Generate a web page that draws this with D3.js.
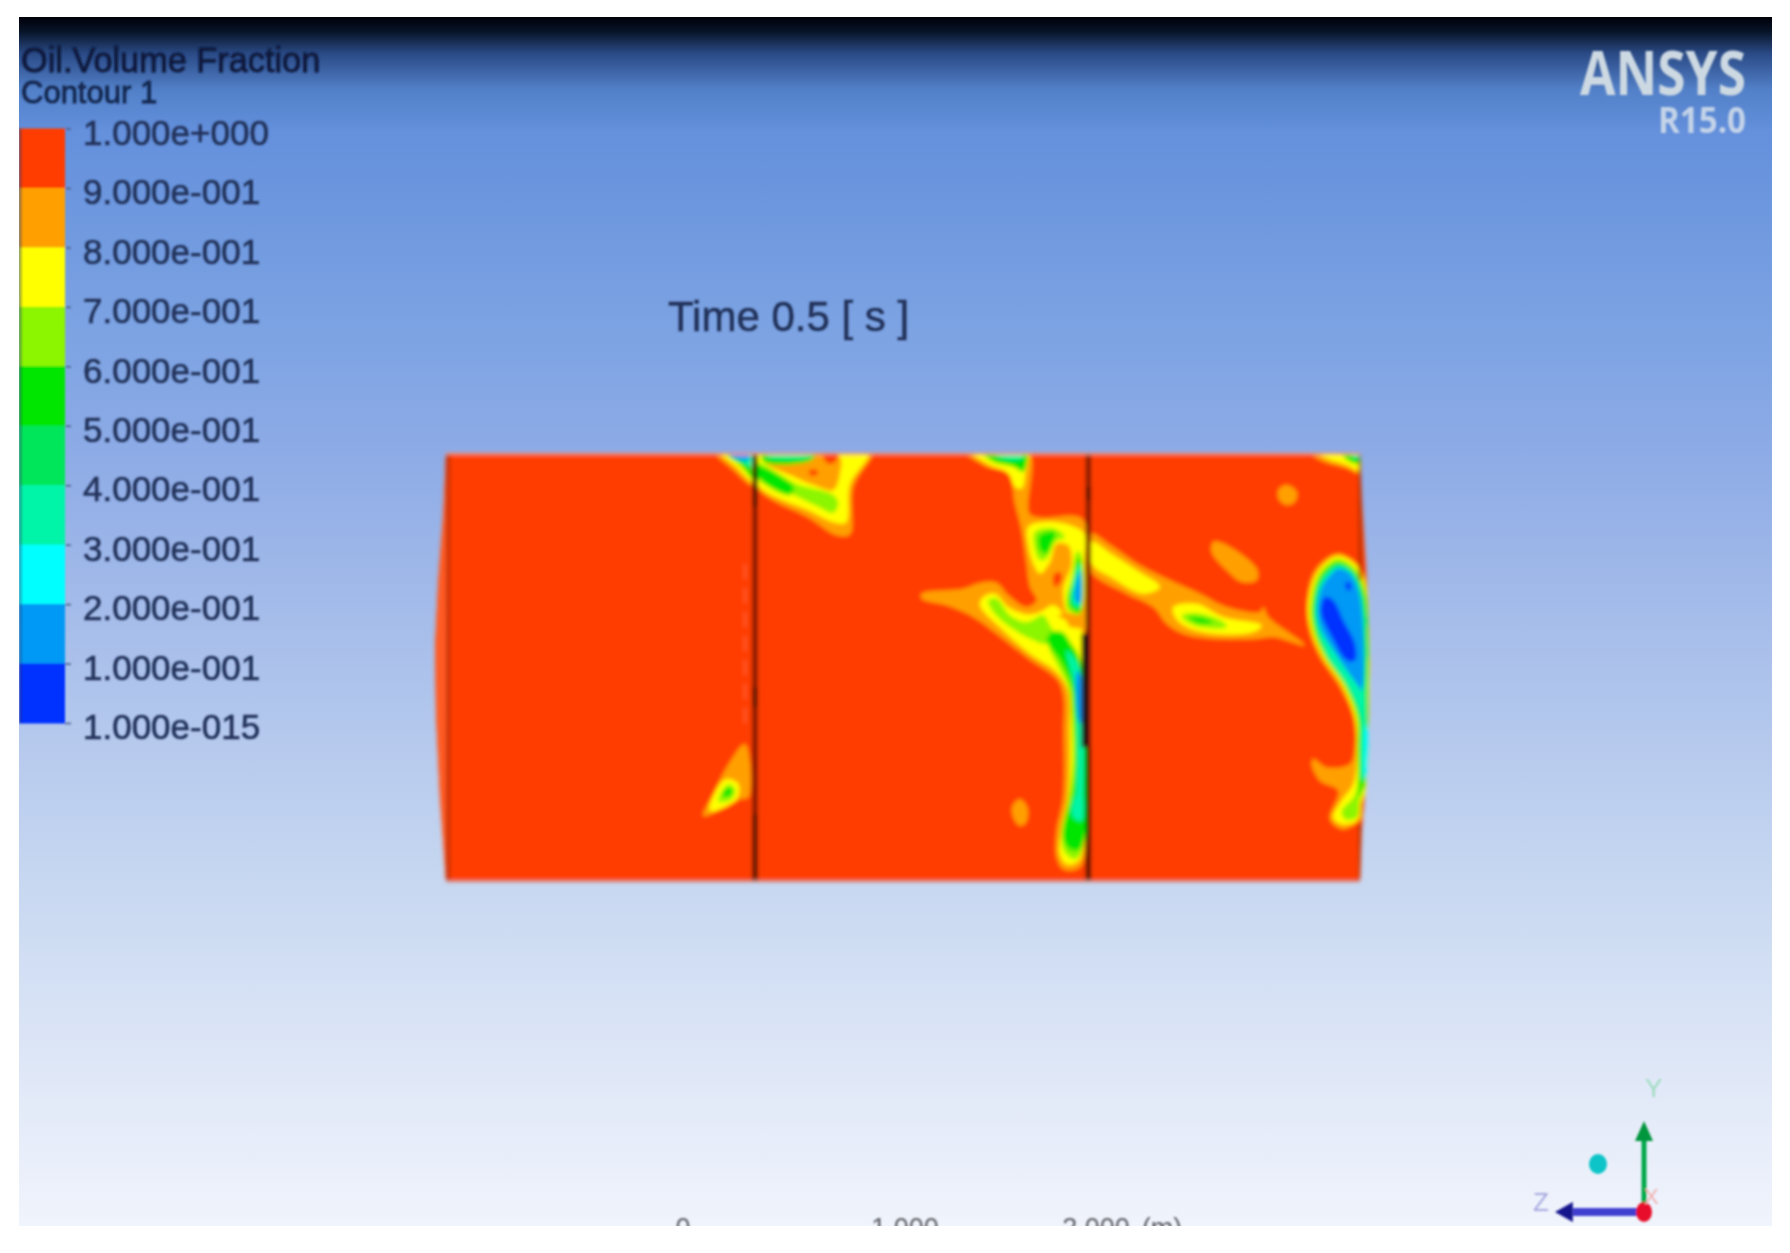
<!DOCTYPE html>
<html>
<head>
<meta charset="utf-8">
<script src="https://cdn.jsdelivr.net/npm/d3@7"></script>
<style>
  html, body { margin: 0; background: #fff; }
  svg { display: block; }
  text { font-family: "Liberation Sans", Arial, sans-serif; }
</style>
</head>
<body>
<svg id="chart" width="1790" height="1253"></svg>
<script>
// legend
const legendLabels = ["1.000e+000","9.000e-001","8.000e-001","7.000e-001","6.000e-001","5.000e-001","4.000e-001","3.000e-001","2.000e-001","1.000e-001","1.000e-015"]
const bandTops = [1,0.9,0.8,0.7,0.6,0.5,0.4,0.3,0.2,0.1]
const bandLimits = [0.1,0.2,0.3,0.4,0.5,0.6,0.7,0.8,0.9]
const bandColors = ["#0033ff","#0099f5","#00ffff","#00f5a8","#00e65a","#00e600","#8cf500","#ffff00","#ffa000","#ff3c00"]

// background, top to bottom
const bgOffsets = [0,0.012,0.03,0.06,0.095,0.25,0.36,0.5,0.72,0.9,1]
const bgColors = ["#00000a","#081428","#2a4a85","#5280c8","#6490dc","#7ba2e2","#8dabe6","#a6bdea","#c8d8f1","#e3eaf8","#f0f4fc"]

// scale bar
const scaleValues = [0,1,2]
const scaleLabels = ["0","1.000","2.000"]

// domain outline, y is measured downward
const leftWall = [[-1302,72],[-1310,250],[-1325,450],[-1335,650],[-1332,850],[-1320,1100],[-1302,1350]]
const rightWall = [[1440,72],[1445,200],[1460,450],[1468,700],[1462,1000],[1445,1200],[1440,1350]]

// contour patches: [band value, outline]
const cornerPatch = [
  [0.85,[[-500,60],[-375,60],[-375,172],[-390,165],[-440,120]]],
  [0.75,[[-485,60],[-375,60],[-375,160],[-390,152],[-430,112]]],
  [0.55,[[-475,60],[-375,60],[-375,150],[-420,105]]],
  [0.35,[[-465,60],[-382,60],[-382,112],[-410,97]]],
  [0.15,[[-468,60],[-395,60],[-395,90],[-440,84]]]
]
const bridgePatch = [
  [0.85,[[-370,60],[-15,60],[-25,82],[-80,170],[-90,312],[-130,315],[-210,265],[-370,170]]],
  [0.75,[[-370,60],[-40,60],[-35,77],[-90,162],[-102,277],[-137,277],[-212,242],[-370,160]]],
  [0.85,[[-340,100],[-270,85],[-185,72],[-120,82],[-120,130],[-140,180],[-200,165],[-270,135]]],
  [0.95,[[-215,128],[-200,118],[-185,128],[-200,138]]],
  [0.95,[[-170,72],[-125,72],[-140,100],[-160,98]]],
  [0.65,[[-370,100],[-255,160],[-140,195],[-125,220],[-140,248],[-190,228],[-350,150],[-370,145]]],
  [0.55,[[-370,108],[-260,168],[-270,195],[-370,140]]],
  [0.55,[[-350,60],[-195,60],[-205,90],[-350,95]]],
  [0.35,[[-340,60],[-195,60],[-200,76],[-340,78]]]
]
const lowerLeftPatch = [
  [0.85,[[-405,940],[-395,1100],[-420,1105],[-530,1155],[-500,1090],[-460,1010]]],
  [0.75,[[-460,1045],[-425,1060],[-430,1105],[-510,1140],[-495,1085]]],
  [0.65,[[-455,1060],[-435,1075],[-445,1105],[-485,1112]]],
  [0.55,[[-455,1070],[-440,1082],[-460,1098],[-475,1090]]]
]
const middlePatch = [
  [0.85,[[250,60],[320,110],[385,130],[405,220],[425,300],[440,400],[450,470],[470,510],[440,530],[385,495],[350,458],[300,458],[250,475],[125,490],[125,505],[200,525],[280,560],[350,610],[440,680],[530,745],[550,790],[552,900],[550,1100],[530,1200],[530,1280],[550,1315],[590,1315],[610,1290],[612,620],[625,560],[625,310],[600,262],[480,262],[448,250],[445,60]]],
  [0.75,[[265,60],[330,105],[385,130],[405,170],[425,175],[436,130],[440,60]]],
  [0.55,[[300,60],[437,60],[430,125],[400,110],[340,95]]],
  [0.35,[[320,60],[430,60],[425,85],[370,85]]],
  [0.75,[[445,290],[500,275],[570,285],[612,310],[612,400],[600,540],[565,550],[550,480],[575,400],[565,345],[530,340],[510,395],[480,430],[460,400],[445,345]]],
  [0.65,[[465,305],[520,295],[555,320],[525,335],[500,385],[480,390],[463,350]]],
  [0.55,[[478,315],[525,305],[520,335],[500,370],[480,360]]],
  [0.65,[[590,365],[600,365],[600,550],[565,540],[560,500],[575,440]]],
  [0.55,[[595,385],[600,385],[600,545],[570,530],[565,505],[580,450]]],
  [0.35,[[600,400],[578,470],[578,520],[600,530]]],
  [0.15,[[600,420],[590,450],[585,510],[600,520]]],
  [0.95,[[520,435],[540,425],[545,450],[525,470]]],
  [0.75,[[310,500],[345,490],[385,530],[440,552],[480,545],[520,525],[550,550],[570,590],[605,600],[605,1270],[590,1295],[560,1300],[540,1270],[545,1200],[565,1100],[570,900],[565,780],[530,725],[450,670],[370,600],[300,525]]],
  [0.85,[[535,555],[570,548],[600,565],[600,590],[570,575]]],
  [0.65,[[325,510],[350,505],[390,555],[440,575],[490,555],[510,585],[520,605],[500,640],[450,625],[390,590],[340,545]]],
  [0.65,[[505,640],[520,610],[548,605],[575,640],[600,690],[605,1260],[585,1285],[555,1265],[545,1210],[565,1110],[578,1000],[575,860],[565,770],[530,700]]],
  [0.55,[[500,630],[515,605],[545,605],[572,640],[600,690],[605,1250],[575,1258],[552,1230],[555,1170],[575,1100],[585,1000],[582,860],[575,770],[540,690]]],
  [0.35,[[560,660],[580,680],[600,720],[603,1150],[590,1100],[592,1000],[590,860],[585,770]]],
  [0.15,[[590,720],[602,740],[602,880],[595,870]]],
  [0.35,[[595,1080],[605,1080],[605,1170],[580,1160],[575,1135]]],
  [0.85,[[420,1105],[442,1130],[438,1175],[420,1185],[400,1160],[398,1125]]]
]
const streakPatch = [
  [0.85,[[630,310],[700,350],[780,405],[870,450],[960,490],[1040,530],[1140,545],[1150,530],[1165,560],[1275,645],[1180,620],[1130,625],[1000,625],[910,610],[860,580],[820,530],[740,490],[630,420]]],
  [0.75,[[635,335],[700,375],[770,420],[840,470],[790,490],[700,445],[635,400]]],
  [0.75,[[880,530],[950,520],[1030,560],[1145,585],[1120,605],[1000,610],[920,590],[885,560]]],
  [0.65,[[905,555],[950,548],[1030,575],[1040,590],[960,590],[915,570]]],
  [0.55,[[925,560],[960,560],[1000,575],[960,580]]],
  [0.85,[[1220,165],[1250,185],[1245,215],[1220,225],[1198,210],[1195,180]]],
  [0.85,[[1000,335],[1030,340],[1130,415],[1130,450],[1085,455],[1040,420],[995,365]]]
]
const dropletPatch = [
  [0.85,[[1375,370],[1430,400],[1465,480],[1475,800],[1475,1050],[1440,1110],[1445,1160],[1390,1195],[1350,1165],[1375,1080],[1320,1050],[1295,1000],[1300,985],[1340,1010],[1410,1000],[1425,950],[1420,860],[1380,770],[1320,680],[1290,610],[1280,530],[1300,430],[1340,385]]],
  [0.75,[[1375,378],[1430,408],[1460,490],[1470,700],[1470,1050],[1445,1110],[1430,1170],[1385,1180],[1360,1160],[1385,1110],[1420,1060],[1432,950],[1425,860],[1385,760],[1330,680],[1295,600],[1285,530],[1305,440],[1340,395]]],
  [0.65,[[1375,386],[1425,415],[1460,500],[1465,800],[1465,1040],[1440,1100],[1430,1160],[1395,1165],[1385,1140],[1425,1090],[1432,950],[1430,860],[1390,760],[1335,680],[1300,600],[1292,530],[1310,445],[1340,405]]],
  [0.55,[[1375,395],[1420,420],[1455,500],[1462,800],[1460,1000],[1440,1100],[1437,950],[1435,860],[1395,760],[1340,680],[1305,600],[1297,530],[1315,450],[1345,410]]],
  [0.35,[[1375,405],[1415,425],[1445,500],[1455,800],[1458,1030],[1448,1050],[1444,950],[1442,860],[1400,760],[1345,680],[1310,590],[1305,530],[1320,460],[1350,420]]],
  [0.15,[[1375,415],[1410,430],[1440,500],[1445,780],[1430,760],[1360,660],[1320,590],[1312,530],[1325,470],[1355,430]]],
  [0.05,[[1335,500],[1360,510],[1390,570],[1425,640],[1425,690],[1400,690],[1355,620],[1322,545]]],
  [0.05,[[1398,455],[1412,460],[1412,478],[1400,478]]],
  [0.25,[[1456,880],[1466,920],[1466,1030],[1456,1040],[1452,940]]]
]
const cornerRightPatch = [
  [0.85,[[1285,60],[1440,60],[1440,130],[1400,115],[1320,90]]],
  [0.75,[[1300,60],[1440,60],[1437,120],[1400,105],[1340,85]]],
  [0.55,[[1380,60],[1440,60],[1440,100],[1405,92]]],
  [0.35,[[1390,60],[1440,60],[1438,85],[1420,80]]]
]
const patches = [cornerPatch, bridgePatch, lowerLeftPatch, middlePatch, streakPatch, dropletPatch, cornerRightPatch]

// interface lines: [x, y start, y end]
const wallFaint = [[-1295,72,1350],[1440,72,450],[1440,1180,1350]]
const wallRed = [[-375,230,770],[-375,830,1150],[625,72,170],[625,210,610]]
const wallBlack = [[-375,72,230],[-375,770,830],[-375,1150,1350],[625,170,210],[625,950,1350]]
const wallThick = [[618,610,950]]
const wallDashed = [[-405,400,900]]

const svg = d3.select("#chart")
const defs = svg.append("defs")

const bg = defs.append("linearGradient").attr("id","bg").attr("x1",0).attr("x2",0).attr("y1",0).attr("y2",1)
bg.selectAll("stop").data(bgOffsets).join("stop")
  .attr("offset",d => d).attr("stop-color",(d,i) => bgColors[i])

defs.append("filter").attr("id","soft").attr("x","-5%").attr("y","-5%").attr("width","110%").attr("height","110%")
  .append("feGaussianBlur").attr("stdDeviation",2)
defs.append("filter").attr("id","softText").attr("x","-5%").attr("y","-20%").attr("width","110%").attr("height","140%")
  .append("feGaussianBlur").attr("stdDeviation",1.3)

defs.append("clipPath").attr("id","frame").append("rect")
  .attr("x",19).attr("y",17).attr("width",1753).attr("height",1209)

const x = d3.scaleLinear().domain([-1302,1440]).range([446,1360])
const y = d3.scaleLinear().domain([72,1350]).range([454,881])
const color = d3.scaleThreshold().domain(bandLimits).range(bandColors)

const outline = leftWall.slice().reverse().concat(rightWall)
const wallPath = d3.line().x(d => x(d[0])).y(d => y(d[1])).curve(d3.curveLinear)
defs.append("clipPath").attr("id","domainClip").append("path").attr("d",wallPath(outline)+"Z")

const root = svg.append("g").attr("clip-path","url(#frame)")
root.append("rect").attr("x",19).attr("y",17).attr("width",1753).attr("height",1209).attr("fill","url(#bg)")

// legend bar
const legendY = d3.scalePoint().domain(legendLabels).range([128.5,723])
const legend = root.append("g").attr("filter","url(#softText)")
legend.selectAll("rect").data(bandTops).join("rect")
  .attr("x",19).attr("width",46)
  .attr("y",(d,i) => legendY(legendLabels[i]))
  .attr("height",legendY.step()+0.5)
  .attr("fill",d => color(d-0.05))
legend.append("rect").attr("x",19).attr("y",128.5).attr("width",3).attr("height",594.5).attr("fill","#203060").attr("opacity",0.35)

const legendAxis = legend.append("g").attr("transform","translate(65,0)")
  .call(d3.axisRight(legendY).tickSize(6).tickPadding(12))
legendAxis.select(".domain").remove()
legendAxis.selectAll(".tick line").attr("stroke","#4a5f8a").attr("stroke-width",1.5)
legendAxis.selectAll(".tick text")
  .attr("dy","0.35em")
  .attr("transform","translate(0,3.5)")
  .style("font-size","35px")
  .attr("fill","#22335a")
  .attr("stroke","#22335a")
  .attr("stroke-width",0.6)

const titles = root.append("g").attr("filter","url(#softText)").attr("fill","#0c1a3c").attr("stroke","#0c1a3c").attr("stroke-width",0.8)
titles.append("text").attr("x",21).attr("y",72).style("font-size","34.3px").text("Oil.Volume Fraction")
titles.append("text").attr("x",21).attr("y",103).style("font-size","31px").attr("fill","#14264c").attr("stroke","#14264c").text("Contour 1")
titles.append("text").attr("x",668).attr("y",331).style("font-size","42px").attr("fill","#22335a").attr("stroke","#22335a").attr("stroke-width",0.5).text("Time 0.5 [ s ]")

const brand = root.append("g").attr("filter","url(#softText)").attr("fill","#cdd9e2")
brand.append("text").attr("x",1580).attr("y",95).attr("textLength",166).attr("lengthAdjust","spacingAndGlyphs")
  .style("font-family","'Open Sans'").style("font-weight",700).style("font-size","60px").text("ANSYS")
brand.append("text").attr("x",1658).attr("y",133).attr("textLength",88).attr("lengthAdjust","spacingAndGlyphs")
  .style("font-family","'Open Sans'").style("font-weight",700).style("font-size","36px").attr("fill","#c3d3e8").text("R15.0")

// contour field
const field = root.append("g").attr("filter","url(#soft)")
field.append("path").attr("d",wallPath(outline)+"Z").attr("fill",color(0.95))
field.append("path").attr("d",wallPath(leftWall.concat([[-1302,1350],[-1302,72]]))+"Z")
  .attr("fill","#ff5a24")

const inner = field.append("g").attr("clip-path","url(#domainClip)")
const shape = d3.line().x(d => x(d[0])).y(d => y(d[1])).curve(d3.curveCatmullRomClosed.alpha(0.5))
patches.forEach(patch => {
  inner.append("g").selectAll("path").data(patch).join("path")
    .attr("d",d => shape(d[1]))
    .attr("fill",d => color(d[0]))
})

const drawWalls = (rows,stroke,width,dash,opacity) => {
  inner.append("g").selectAll("line").data(rows).join("line")
    .attr("x1",d => x(d[0])).attr("x2",d => x(d[0]))
    .attr("y1",d => y(d[1])).attr("y2",d => y(d[2]))
    .attr("stroke",stroke).attr("stroke-width",width).attr("stroke-dasharray",dash).attr("opacity",opacity)
}
drawWalls(wallFaint,"#8c2a10",3,null,0.7)
drawWalls(wallDashed,"#ff6a3a",2,"16 8",0.8)
drawWalls(wallRed,"#6a1400",5,null,1)
drawWalls(wallBlack,"#1a0802",5,null,1)
drawWalls(wallThick,"#26100a",9,null,1)

// faint top and bottom edge of the contour plane
field.append("path").attr("d",wallPath([[-1302,72],[1440,72]])).attr("stroke","#ff8a66").attr("stroke-width",2)
field.append("path").attr("d",wallPath([[-1302,1350],[1440,1350]])).attr("stroke","#d9806a").attr("stroke-width",2)

// scale bar, cut off by the bottom edge of the picture
const scaleX = d3.scaleLinear().domain(scaleValues).range([683,905,1096])
const scaleG = root.append("g").attr("filter","url(#softText)").attr("fill","#5e5e66")
  .style("font-size","27px").attr("text-anchor","middle")
scaleG.selectAll("text.lab").data(scaleValues).join("text").attr("class","lab")
  .attr("x",d => scaleX(d)).attr("y",1237).text((d,i) => scaleLabels[i])
scaleG.append("text").attr("x",scaleX(2)+66).attr("y",1237).text("(m)")

// triad
const triadX = d3.scaleLinear().domain([-1,0]).range([1555,1644])
const triadY = d3.scaleLinear().domain([0,1]).range([1212,1121])
const triad = root.append("g").attr("filter","url(#softText)")
triad.append("line").attr("x1",triadX(0)).attr("y1",triadY(0)).attr("x2",triadX(0)).attr("y2",triadY(0.8))
  .attr("stroke","#00a84a").attr("stroke-width",5)
triad.append("path").attr("fill","#00963c")
  .attr("d",d3.line()([[triadX(0),triadY(1)],[triadX(0)-9,triadY(0.78)],[triadX(0)+9,triadY(0.78)]])+"Z")
triad.append("line").attr("x1",triadX(0)).attr("y1",triadY(0)).attr("x2",triadX(-0.8)).attr("y2",triadY(0))
  .attr("stroke","#3f3fd0").attr("stroke-width",8)
triad.append("path").attr("fill","#14148c")
  .attr("d",d3.line()([[triadX(-1),triadY(0)],[triadX(-0.8),triadY(0)-10],[triadX(-0.8),triadY(0)+10]])+"Z")
triad.append("ellipse").attr("cx",triadX(0)).attr("cy",triadY(0)).attr("rx",8).attr("ry",10).attr("fill","#e8102a")
triad.append("ellipse").attr("cx",1598).attr("cy",1164).attr("rx",9).attr("ry",10).attr("fill","#08c4c8")
triad.append("text").attr("x",1645).attr("y",1097).style("font-size","26px").attr("fill","#9fdcc0").text("Y")
triad.append("text").attr("x",1533).attr("y",1211).style("font-size","26px").attr("fill","#a8a8e0").text("Z")
triad.append("text").attr("x",1644).attr("y",1204).style("font-size","22px").attr("fill","#f0b0b0").text("X")
</script>
</body>
</html>
